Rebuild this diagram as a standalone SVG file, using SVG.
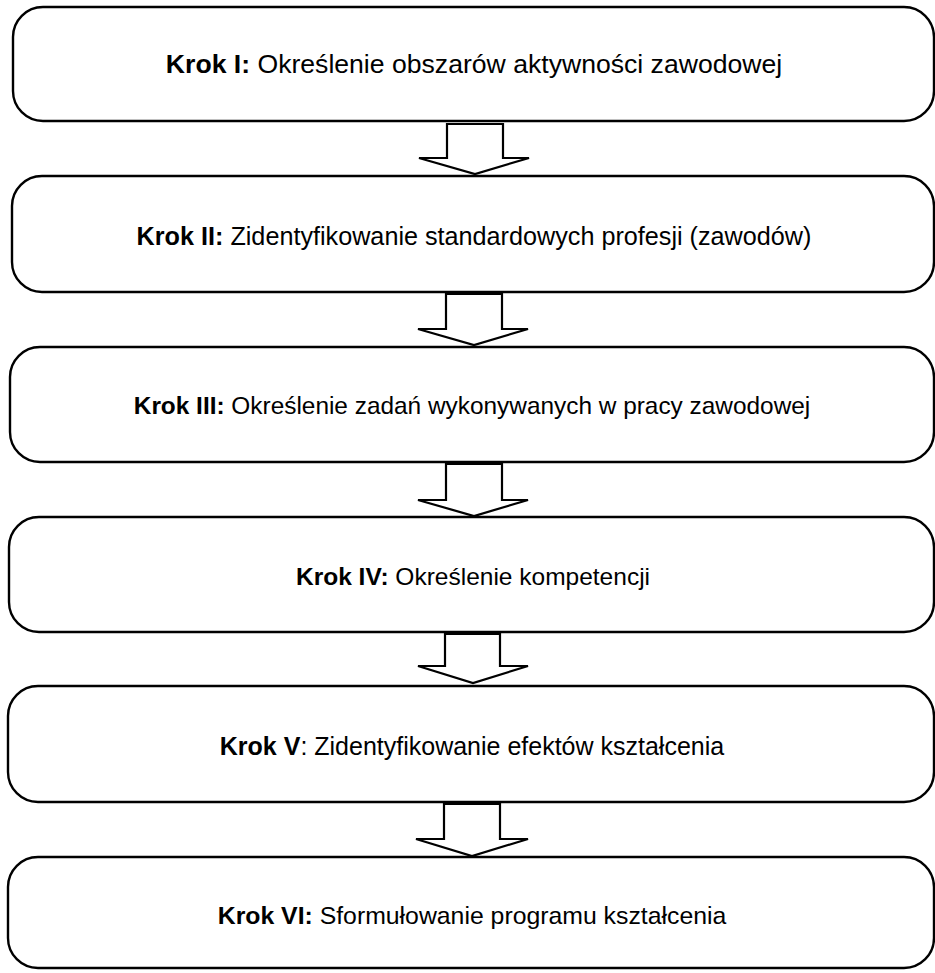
<svg xmlns="http://www.w3.org/2000/svg" width="935" height="973" viewBox="0 0 935 973">
<style>
.box{fill:#fff;stroke:#000;stroke-width:2.4}
.arr{fill:#fff;stroke:#000;stroke-width:2.2;stroke-linejoin:miter}
text{font-family:"Liberation Sans",Arial,sans-serif;font-size:25px;fill:#000;text-anchor:middle}
.b{font-weight:bold}
</style>
<rect width="935" height="973" fill="#fff"/>
<g id="connectors">
<polygon class="arr" points="447,124 503,124 503,158 529,158 475,174 419,158 447,158"/>
<polygon class="arr" points="446,294 502,294 502,329 528,329 474,345 418,329 446,329"/>
<polygon class="arr" points="446,464 502,464 502,500 528,500 474,516 418,500 446,500"/>
<polygon class="arr" points="445,634 500,634 500,666 528,666 473,683 418,666 445,666"/>
<polygon class="arr" points="444,804 500,804 500,839 528,839 472,856 416,839 444,839"/>
</g>
<g id="step1">
<rect class="box" x="13" y="7" width="921" height="114" rx="30" ry="30"/>
<text x="474" y="73" style="font-size:26.6px"><tspan class="b">Krok I:</tspan> Określenie obszarów aktywności zawodowej</text>
</g>
<g id="step2">
<rect class="box" x="12" y="176" width="922" height="116" rx="30" ry="30"/>
<text x="474" y="245" style="font-size:25.2px"><tspan class="b">Krok II:</tspan> Zidentyfikowanie standardowych profesji (zawodów)</text>
</g>
<g id="step3">
<rect class="box" x="10" y="347" width="924" height="115" rx="30" ry="30"/>
<text x="472" y="414" style="font-size:24.4px"><tspan class="b">Krok III:</tspan> Określenie zadań wykonywanych w pracy zawodowej</text>
</g>
<g id="step4">
<rect class="box" x="9" y="517" width="925" height="115" rx="30" ry="30"/>
<text x="473" y="585" style="font-size:24.5px"><tspan class="b">Krok IV:</tspan> Określenie kompetencji</text>
</g>
<g id="step5">
<rect class="box" x="8" y="686" width="926" height="116" rx="30" ry="30"/>
<text x="472" y="755" style="font-size:25px"><tspan class="b">Krok V</tspan>: Zidentyfikowanie efektów kształcenia</text>
</g>
<g id="step6">
<rect class="box" x="8" y="857" width="926" height="111" rx="30" ry="30"/>
<text x="472" y="924" style="font-size:24.8px"><tspan class="b">Krok VI:</tspan> Sformułowanie programu kształcenia</text>
</g>
</svg>
